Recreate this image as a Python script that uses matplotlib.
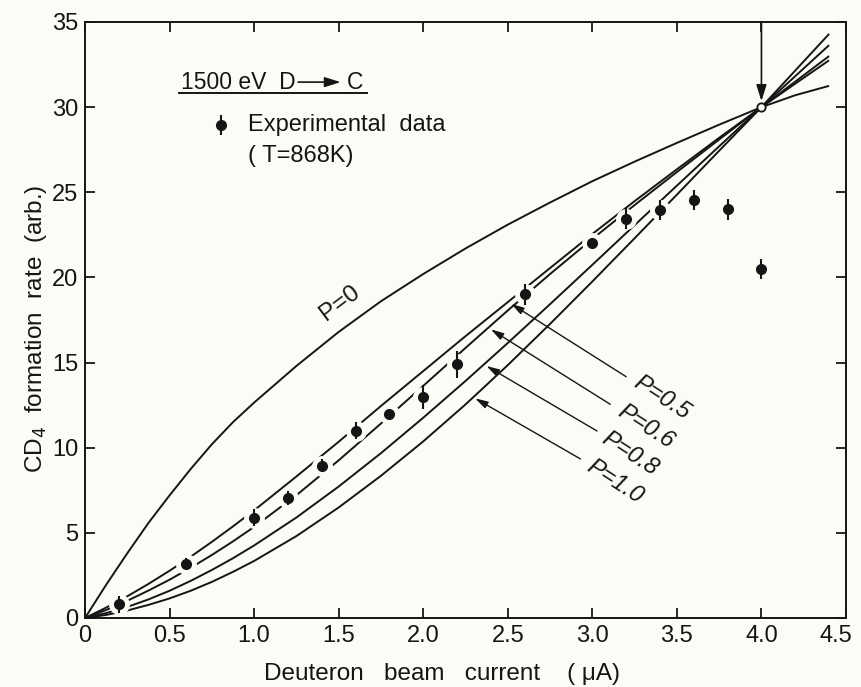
import matplotlib
matplotlib.use("Agg")
import matplotlib.pyplot as plt
import matplotlib.transforms as mtransforms

# ---------------- data ----------------
x_grid = [0, 0.125, 0.25, 0.375, 0.5, 0.625, 0.75, 0.875, 1.0, 1.25, 1.5,
          1.75, 2.0, 2.25, 2.5, 2.75, 3.0, 3.25, 3.5, 3.75, 4.0, 4.2, 4.4]
p_00 = [0, 1.95, 3.8, 5.58, 7.2, 8.75, 10.2, 11.5, 12.65, 14.8, 16.8, 18.6,
        20.2, 21.7, 23.1, 24.4, 25.65, 26.8, 27.9, 28.97, 30.0, 30.7, 31.25]
p_05 = [0, 0.61, 1.275, 2.0, 2.775, 3.6, 4.47, 5.38, 6.32, 8.31, 10.35,
        12.45, 14.5, 16.55, 18.55, 20.55, 22.55, 24.48, 26.35, 28.2, 30.0,
        31.38, 32.75]
p_06 = [0, 0.47, 1.01, 1.61, 2.25, 2.95, 3.70, 4.50, 5.35, 7.21, 9.26, 11.42,
        13.63, 15.86, 18.06, 20.20, 22.26, 24.25, 26.19, 28.1, 30.0, 31.5, 33.0]
p_08 = [0, 0.29, 0.65, 1.09, 1.6, 2.18, 2.82, 3.51, 4.26, 5.90, 7.72, 9.68,
        11.76, 13.92, 16.15, 18.43, 20.74, 23.07, 25.39, 27.70, 30.0, 31.82,
        33.64]
p_10 = [0, 0.18, 0.44, 0.77, 1.15, 1.6, 2.12, 2.71, 3.35, 4.81, 6.49, 8.35,
        10.37, 12.54, 14.85, 17.27, 19.76, 22.30, 24.86, 27.44, 30.0, 32.15,
        34.3]
curves = [p_00, p_05, p_06, p_08, p_10]

exp_x = [0.2, 0.6, 1.0, 1.2, 1.4, 1.6, 1.8, 2.0, 2.2, 2.6, 3.0, 3.2, 3.4,
         3.6, 3.8, 4.0]
exp_y = [0.8, 3.2, 5.9, 7.05, 8.95, 11.0, 12.0, 13.0, 14.9, 19.0, 22.0,
         23.45, 23.95, 24.55, 24.0, 20.5]
exp_err = [0.5, 0.3, 0.5, 0.4, 0.4, 0.5, 0.3, 0.7, 0.8, 0.6, 0.3, 0.6, 0.6,
           0.6, 0.6, 0.6]

norm_x, norm_y = 4.0, 30.0

x_ticks = [0, 0.5, 1.0, 1.5, 2.0, 2.5, 3.0, 3.5, 4.0, 4.5]
x_tick_labels = ["0", "0.5", "1.0", "1.5", "2.0", "2.5", "3.0", "3.5", "4.0", "4.5"]
y_ticks = [0, 5, 10, 15, 20, 25, 30, 35]
y_tick_labels = ["0", "5", "10", "15", "20", "25", "30", "35"]

p_labels = ["P=0.5", "P=0.6", "P=0.8", "P=1.0"]

# ---------------- style ----------------
plt.rcParams['font.family'] = ['Liberation Sans Narrow', 'Liberation Sans', 'DejaVu Sans']
plt.rcParams['mathtext.fontset'] = 'custom'
plt.rcParams['mathtext.rm'] = 'Liberation Sans Narrow'
plt.rcParams['mathtext.it'] = 'Liberation Sans Narrow:italic'

bg = '#fcfbf5'
ink = '#151515'

fig = plt.figure(figsize=(8.61, 6.87), dpi=100, facecolor=bg)
L, R, T, B = 85, 846, 22, 618
W, H = 861, 687
ax = fig.add_axes([L / W, 1 - B / H, (R - L) / W, (B - T) / H], facecolor=bg)
ax.set_xlim(0, 4.5)
ax.set_ylim(0, 35)

for ys in curves:
    ax.plot(x_grid, ys, color=ink, lw=1.4, zorder=2, solid_capstyle='butt',
            solid_joinstyle='round')

# halo around the experimental points (breaks the curves like the original)
ax.plot(exp_x, exp_y, 'o', ms=14, color=bg, zorder=3, lw=0)
ax.errorbar(exp_x, exp_y, yerr=exp_err, fmt='o', ms=7, color=ink, ecolor=ink,
            elinewidth=1.5, capsize=0, zorder=4)

# normalisation point with arrow
ax.plot([norm_x], [norm_y], 'o', ms=6, mfc=bg, mec=ink, mew=1.3, zorder=6)
ax.annotate('', xy=(norm_x, norm_y + 0.35), xytext=(norm_x, 35),
            arrowprops=dict(arrowstyle='-|>,head_length=0.7,head_width=0.22',
                            mutation_scale=14, color=ink, lw=1.2,
                            shrinkA=0, shrinkB=0), zorder=6)

# axes style
for sp in ax.spines.values():
    sp.set_linewidth(1.4)
    sp.set_color(ink)
ax.set_xticks(x_ticks)
ax.set_xticklabels(x_tick_labels)
ax.set_yticks(y_ticks)
ax.set_yticklabels(y_tick_labels)
ax.tick_params(direction='in', length=7, width=1.3, top=True, right=True,
               colors=ink, labelsize=17, pad=5)
for lab in ax.get_xticklabels() + ax.get_yticklabels():
    lab.set_family(['Liberation Sans', 'DejaVu Sans'])
last = ax.get_xticklabels()[-1]
last.set_transform(last.get_transform() +
                   mtransforms.ScaledTranslation(-7 / 72, 0, fig.dpi_scale_trans))

fig.text(442 / W, 1 - 674 / H, 'Deuteron   beam   current    ( \u03bcA)',
         ha='center', va='center', fontsize=17.5, color=ink)
fig.text(36 / W, 1 - 329 / H, r'CD$_{4}$  formation  rate  (arb.)',
         ha='center', va='center', rotation=90, fontsize=17.5, color=ink)

# legend block
ax.text(0.565, 31.47, '1500 eV  D', fontsize=16.5, ha='left', va='center', color=ink)
ax.annotate('', xy=(1.512, 31.47), xytext=(1.26, 31.47),
            arrowprops=dict(arrowstyle='-|>,head_length=0.8,head_width=0.25',
                            mutation_scale=12, color=ink, lw=1.2,
                            shrinkA=0, shrinkB=0))
ax.text(1.55, 31.47, 'C', fontsize=16.5, ha='left', va='center', color=ink)
ax.plot([0.553, 1.666], [30.81, 30.81], color=ink, lw=1.4)
ax.errorbar([0.804], [28.95], yerr=[0.6], fmt='o', ms=7, color=ink,
            elinewidth=1.5, capsize=0)
ax.text(0.964, 28.95, 'Experimental  data', fontsize=17, ha='left',
        va='center', color=ink)
ax.text(0.964, 27.15, '( T=868K)', fontsize=17, ha='left', va='center', color=ink)

# curve labels
ax.text(1.51, 18.5, 'P=0', fontsize=17.5, rotation=37, ha='center', va='center',
        color=ink, family=['Liberation Sans', 'DejaVu Sans'])

label_pos = [(3.41, 12.92), (3.316, 11.22), (3.22, 9.63), (3.135, 7.99)]
leader_start = [(3.20, 14.17), (3.106, 12.55), (3.028, 10.98), (2.93, 9.34)]
leader_tip = [(2.52, 18.45), (2.40, 16.95), (2.374, 14.8), (2.307, 12.9)]
for lab, pos, st, tip in zip(p_labels, label_pos, leader_start, leader_tip):
    ax.text(pos[0], pos[1], lab, fontsize=17, rotation=-33, ha='center',
            va='center', color=ink, style='italic',
            family=['Liberation Sans', 'DejaVu Sans'])
    ax.annotate('', xy=tip, xytext=st,
                arrowprops=dict(arrowstyle='-|>,head_length=0.7,head_width=0.2',
                                mutation_scale=11, color=ink, lw=1.0,
                                shrinkA=0, shrinkB=0))

fig.savefig('out.png', dpi=100, facecolor=bg)
